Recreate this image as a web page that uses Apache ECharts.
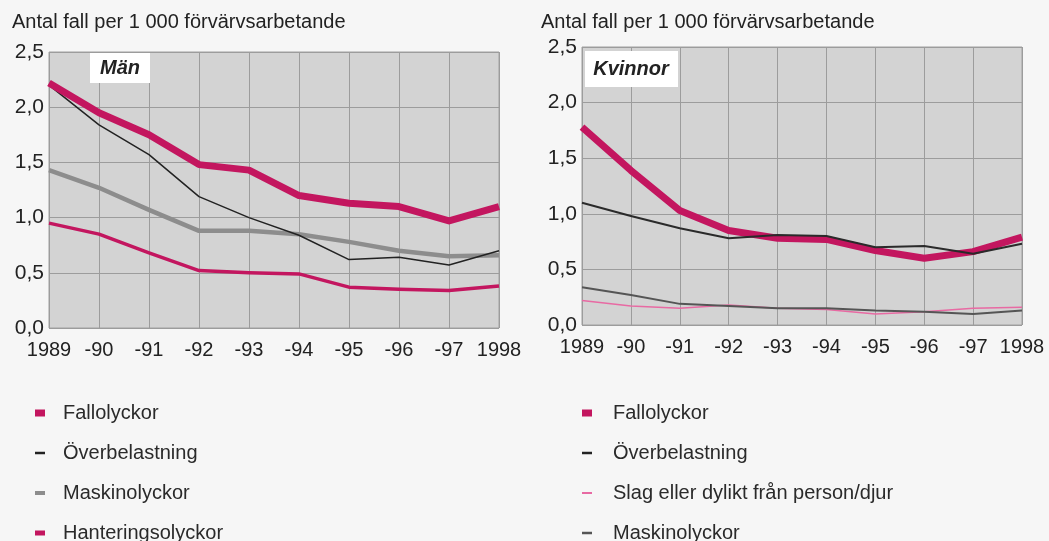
<!DOCTYPE html>
<html>
<head>
    <meta charset="utf-8">
    <title>Olycksfall</title>
    <script src="https://cdn.jsdelivr.net/npm/echarts@6/dist/echarts.min.js"></script>
</head>
<body style="margin:0;background:#f6f6f6;">
<div id="main" style="width:1049px;height:541px;"></div>

<script type="text/javascript">
    // år på x-axeln
    var years = ['1989', '-90', '-91', '-92', '-93', '-94', '-95', '-96', '-97', '1998'];
    var yTicks = [0, 0.5, 1, 1.5, 2, 2.5];

    // Män
    var manFall = [2.22, 1.95, 1.75, 1.48, 1.43, 1.20, 1.13, 1.10, 0.97, 1.10];
    var manOver = [2.20, 1.84, 1.57, 1.19, 1.00, 0.84, 0.62, 0.64, 0.57, 0.70];
    var manMaskin = [1.43, 1.27, 1.07, 0.88, 0.88, 0.85, 0.78, 0.70, 0.65, 0.66];
    var manHantering = [0.95, 0.85, 0.68, 0.52, 0.50, 0.49, 0.37, 0.35, 0.34, 0.38];

    // Kvinnor
    var kvFall = [1.78, 1.39, 1.03, 0.85, 0.78, 0.77, 0.67, 0.60, 0.66, 0.79];
    var kvOver = [1.10, 0.98, 0.87, 0.78, 0.81, 0.80, 0.70, 0.71, 0.64, 0.73];
    var kvSlag = [0.22, 0.17, 0.15, 0.18, 0.15, 0.14, 0.10, 0.12, 0.15, 0.16];
    var kvMaskin = [0.34, 0.27, 0.19, 0.17, 0.15, 0.15, 0.13, 0.12, 0.10, 0.13];

    var magenta = '#c3165f';
    var font = 'Liberation Sans, Arial, sans-serif';

    function xAxis(idx) {
        return {
            gridIndex: idx,
            type: 'category',
            data: years,
            boundaryGap: false,
            axisLine: {show: false},
            axisTick: {show: false},
            axisLabel: {color: '#222', fontSize: 20, fontFamily: font, margin: 12, interval: 0},
            splitLine: {show: true, interval: 0, lineStyle: {color: '#9c9c9c', width: 1}}
        };
    }

    function yAxis(idx) {
        return {
            gridIndex: idx,
            type: 'value',
            min: yTicks[0],
            max: yTicks[yTicks.length - 1],
            interval: 0.5,
            axisLine: {show: false},
            axisTick: {show: false},
            axisLabel: {
                color: '#222', fontSize: 21, fontFamily: font, margin: 5,
                formatter: function (v) { return v.toFixed(1).replace('.', ','); }
            },
            splitLine: {show: true, lineStyle: {color: '#9c9c9c', width: 1}}
        };
    }

    function line(name, idx, data, color, width) {
        return {
            name: name,
            type: 'line',
            xAxisIndex: idx,
            yAxisIndex: idx,
            data: data,
            symbol: 'none',
            animation: false,
            lineStyle: {color: color, width: width, join: 'round'},
            itemStyle: {color: color}
        };
    }

    function dash(h) {
        return 'path://M0,0h10v' + h + 'h-10z';
    }

    function legendText(gap) {
        return {fontSize: 20, lineHeight: 20, fontFamily: font, color: '#2a2a2a', padding: [0, 0, 0, gap]};
    }

    var option = {
        animation: false,
        grid: [
            {left: 49, right: 550, top: 52, bottom: 213, show: true,
                backgroundColor: '#d3d3d3', borderColor: '#a0a0a0', borderWidth: 1},
            {left: 582, right: 27, top: 47, bottom: 216, show: true,
                backgroundColor: '#d3d3d3', borderColor: '#a0a0a0', borderWidth: 1}
        ],
        xAxis: [xAxis(0), xAxis(1)],
        yAxis: [yAxis(0), yAxis(1)],
        legend: [
            {
                orient: 'vertical', left: 30, top: 398, height: 200, itemWidth: 10, itemHeight: 8,
                itemGap: 20, selectedMode: false, textStyle: legendText(13),
                data: [
                    {name: 'Fallolyckor', icon: dash(7), itemStyle: {color: magenta}},
                    {name: 'Överbelastning', icon: dash(2.5), itemStyle: {color: '#222'}},
                    {name: 'Maskinolyckor', icon: dash(4), itemStyle: {color: '#8d8d8d'}},
                    {name: 'Hanteringsolyckor', icon: dash(5), itemStyle: {color: magenta}}
                ]
            },
            {
                orient: 'vertical', left: 577, top: 398, height: 200, itemWidth: 10, itemHeight: 8,
                itemGap: 20, selectedMode: false, textStyle: legendText(16),
                data: [
                    {name: 'Fallolyckor', icon: dash(7), itemStyle: {color: magenta}},
                    {name: 'Överbelastning', icon: dash(2.5), itemStyle: {color: '#222'}},
                    {name: 'Slag eller dylikt från person/djur', icon: dash(2), itemStyle: {color: '#e86aa3'}},
                    {name: 'Maskinolyckor', icon: dash(2.5), itemStyle: {color: '#555'}}
                ]
            }
        ],
        graphic: [
            {type: 'text', left: 12, top: 12,
                style: {text: 'Antal fall per 1 000 förvärvsarbetande', fontSize: 20, fontFamily: font, fill: '#222'}},
            {type: 'text', left: 541, top: 12,
                style: {text: 'Antal fall per 1 000 förvärvsarbetande', fontSize: 20, fontFamily: font, fill: '#222'}},
            {type: 'rect', shape: {x: 90, y: 53, width: 60, height: 30}, style: {fill: '#fff'}, z: 10},
            {type: 'text', x: 120, y: 68, z: 11,
                style: {text: 'Män', fontSize: 20, fontWeight: 'bold', fontStyle: 'italic', fontFamily: font,
                    fill: '#222', align: 'center', verticalAlign: 'middle'}},
            {type: 'rect', shape: {x: 585, y: 51, width: 93, height: 36}, style: {fill: '#fff'}, z: 10},
            {type: 'text', x: 631, y: 69, z: 11,
                style: {text: 'Kvinnor', fontSize: 20, fontWeight: 'bold', fontStyle: 'italic', fontFamily: font,
                    fill: '#222', align: 'center', verticalAlign: 'middle'}}
        ],
        series: [
            line('Hanteringsolyckor', 0, manHantering, magenta, 3.5),
            line('Maskinolyckor', 0, manMaskin, '#8d8d8d', 4.5),
            line('Överbelastning', 0, manOver, '#222', 1.5),
            line('Fallolyckor', 0, manFall, magenta, 7),
            line('Slag eller dylikt från person/djur', 1, kvSlag, '#e86aa3', 1.5),
            line('Maskinolyckor', 1, kvMaskin, '#555', 2),
            line('Fallolyckor', 1, kvFall, magenta, 7),
            line('Överbelastning', 1, kvOver, '#2a2a2a', 2)
        ]
    };

    var myChart = echarts.init(document.getElementById('main'));
    myChart.setOption(option);
</script>
</body>
</html>
